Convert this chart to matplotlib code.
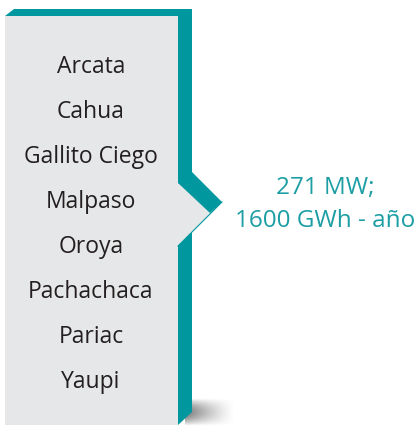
import numpy as np
import matplotlib.pyplot as plt
from matplotlib.patches import Polygon

plants = ["Arcata", "Cahua", "Gallito Ciego", "Malpaso", "Oroya",
          "Pachachaca", "Pariac", "Yaupi"]
summary = ["271 MW;", "1600 GWh - año"]

teal = "#00979e"
text_teal = "#1c9ea4"
box_gray = "#e6e7e8"

fig = plt.figure(figsize=(4.2, 4.26), dpi=100)
ax = fig.add_axes([0, 0, 1, 1])
ax.set_xlim(0, 420)
ax.set_ylim(426, 0)
ax.axis("off")

# soft shadow at bottom right (gradient image)
gx, gy = np.meshgrid(np.linspace(0, 1, 80), np.linspace(0, 1, 50))
alpha = np.clip(1 - gx, 0, 1) ** 1.3 * np.clip(np.sin(np.pi * gy), 0, 1) * 0.75
rgba = np.zeros((50, 80, 4))
rgba[..., :3] = 0.3
rgba[..., 3] = alpha
ax.imshow(rgba, extent=(185, 235, 426, 398), interpolation="bilinear",
          zorder=0, aspect="auto")

# teal frame: top face, right face
ax.add_patch(Polygon([(5, 16), (14, 9), (192, 9), (192, 412), (178, 425),
                      (5, 425)], closed=True, fc=teal, ec="none", zorder=1))
# gray front face with arrow
ax.add_patch(Polygon([(5, 16), (178, 16), (178, 183), (222, 202), (178, 246),
                      (178, 425), (5, 425)], closed=True, fc=box_gray,
                     ec="none", zorder=2))
# upper arm of the arrow
ax.add_patch(Polygon([(192, 172), (222, 202), (210, 213), (178, 183),
                      (178, 172)], closed=True, fc=teal, ec="none", zorder=3))
ax.plot([222, 178], [202, 246], color=teal, lw=0.8, zorder=3)

for i, name in enumerate(plants):
    ax.text(91, 67 + 45 * i, name, ha="center", va="center",
            fontsize=16.5, color="#231f20", family=["Open Sans", "DejaVu Sans"],
            zorder=4)

for i, line in enumerate(summary):
    ax.text(325, 188 + 33 * i, line, ha="center", va="center",
            fontsize=17.5, color=text_teal, family=["Open Sans", "DejaVu Sans"],
            zorder=4)

ax.set_xlim(0, 420)
ax.set_ylim(426, 0)
fig.savefig("out.png", dpi=100)
